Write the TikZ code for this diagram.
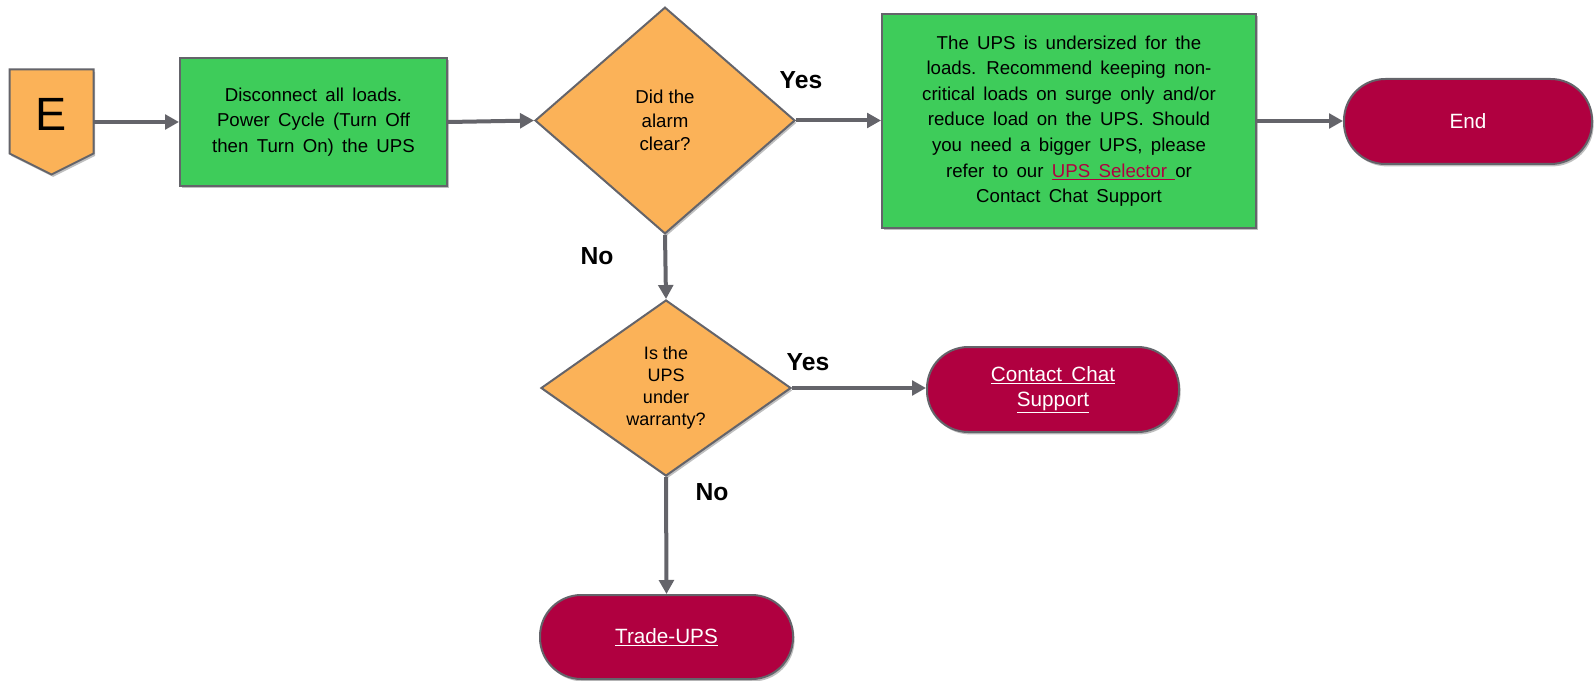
\documentclass[tikz,border=0pt]{standalone}
\usepackage{fontspec}
\setmainfont{Liberation Sans}
\newfontfamily\widefont[WordSpace=1.6]{Liberation Sans}
\usetikzlibrary{shapes.geometric,arrows.meta,shadows,calc}

\definecolor{flowOrange}{RGB}{251,178,88}
\definecolor{flowGreen}{RGB}{62,204,90}
\definecolor{flowRed}{RGB}{176,0,64}
\definecolor{flowGray}{RGB}{100,100,106}

\tikzset{every picture/.style={line width=0.75pt}}
\tikzset{
  shade/.style={drop shadow={shadow xshift=1.2pt, shadow yshift=-1.8pt, opacity=0.25, fill=black}},
  procbox/.style={rectangle, draw=flowGray, line width=1.5pt, fill=flowGreen, align=center, inner sep=0pt, font=\widefont\fontsize{14}{19.2}\selectfont, shade},
  decision/.style={diamond, draw=flowGray, line width=1.5pt, fill=flowOrange, align=center, inner sep=0pt, aspect=1, shade},
  termbox/.style={rectangle, rounded corners=31pt, draw=flowGray, line width=1.5pt, fill=flowRed, text=white, align=center, inner sep=0pt, font=\widefont\fontsize{15.5}{18.75}\selectfont, shade},
  answer/.style={inner sep=0pt, font=\fontsize{18.5}{21}\selectfont\bfseries},
  arr/.style={draw=flowGray, line width=3pt, -{Triangle[length=10.5pt,width=11pt]}}
}

\begin{document}
\begin{tikzpicture}[x=0.75pt,y=0.75pt,yscale=-1,xscale=1]
\useasboundingbox (0,0) rectangle (1594,681);

%Shape: Entry pentagon
\path (51.5,122) node [minimum width=62.25pt, minimum height=78pt, inner sep=0pt] (ent) {};
\filldraw [draw=flowGray, line width=1.5pt, fill=flowOrange, shade] (ent.north west) -- (ent.north east) -- ($(ent.south east)+(0,-21)$) -- (ent.south) -- ($(ent.south west)+(0,-21)$) -- cycle ;
% Text Node
\node [inner sep=0pt, font=\fontsize{35}{40}\selectfont] (elet) at (51.5,114) {E};

%Shape: Rectangle
\node [procbox, minimum width=200.25pt, minimum height=96pt] (disc) at (313.5,122) {Disconnect all loads.\\Power Cycle (Turn Off\\then Turn On) the UPS};
%Shape: Diamond
\node [decision, minimum width=195pt, minimum height=170pt, font=\fontsize{14}{17.5}\selectfont] (alarm) at (665,120.5) {Did the\\alarm\\clear?};
%Shape: Rectangle
\node [procbox, minimum width=280.5pt, minimum height=160.5pt] (small) at (1069,121) {The UPS is undersized for the\\loads. Recommend keeping non-\\critical loads on surge only and/or\\reduce load on the UPS. Should\\you need a bigger UPS, please\\refer to our \textcolor{flowRed}{\underline{UPS Selector }}or\\Contact Chat Support};
%Shape: Terminal
\node [termbox, minimum width=186pt, minimum height=63.75pt] (fin) at (1468,121.5) {End};
%Shape: Diamond
\node [decision, minimum width=187.5pt, minimum height=132pt, font=\fontsize{13.5}{16.5}\selectfont] (warr) at (666,388) {Is the\\UPS\\under\\warranty?};
%Shape: Terminal
\node [termbox, minimum width=189pt, minimum height=63.75pt] (chat) at (1053,389.5) {\underline{Contact Chat}\\\underline{Support}};
%Shape: Terminal
\node [termbox, minimum width=189.75pt, minimum height=63pt] (trade) at (666.5,637) {\underline{Trade-UPS}};

%Straight Lines
\draw [arr] (ent.east) -- (disc.west |- ent.east) ;
\draw [arr] (disc.east) -- (alarm.west) ;
\draw [arr] (alarm.east) -- (small.west |- alarm.east) ;
\draw [arr] (small.east) -- (fin.west |- small.east) ;
\draw [arr] (alarm.south) -- (warr.north) ;
\draw [arr] (warr.east) -- (chat.west |- warr.east) ;
\draw [arr] (warr.south) -- (trade.north) ;

% Text Node
\node [answer] (yesa) at (801,80) {Yes};
% Text Node
\node [answer] (noa) at (597,256) {No};
% Text Node
\node [answer] (yesb) at (808,362) {Yes};
% Text Node
\node [answer] (nob) at (712,492) {No};
\end{tikzpicture}
\end{document}
